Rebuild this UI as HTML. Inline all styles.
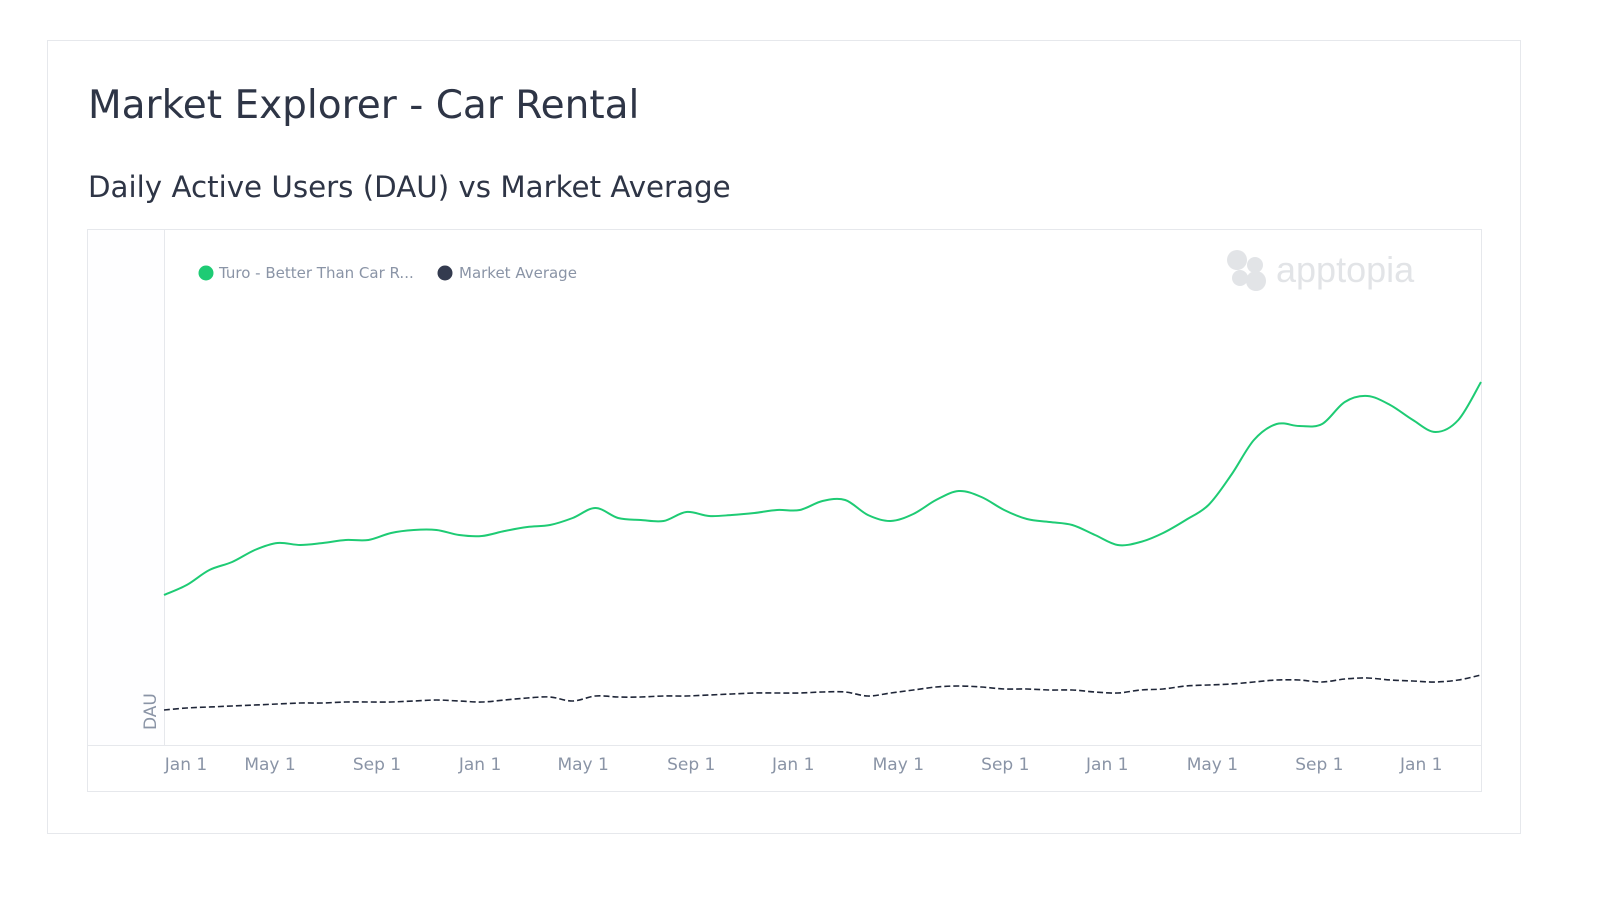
<!DOCTYPE html>
<html><head><meta charset="utf-8">
<style>
html,body{margin:0;padding:0;background:#fff;width:1600px;height:900px;overflow:hidden;font-family:"DejaVu Sans","Liberation Sans",sans-serif;}
#card{position:absolute;left:47px;top:40px;width:1474px;height:794px;border:1px solid #e6e8ec;box-sizing:border-box;}
#title{position:absolute;left:88px;top:83px;font-size:39px;color:#2e3546;margin:0;font-weight:normal;}
#sub{position:absolute;left:88px;top:170px;font-size:29.3px;color:#2e3546;margin:0;font-weight:normal;}
svg{position:absolute;left:0;top:0;}
</style></head><body>
<div id="card"></div>
<h1 id="title">Market Explorer - Car Rental</h1>
<h2 id="sub">Daily Active Users (DAU) vs Market Average</h2>
<svg id="chart" width="1600" height="900">
<rect x="87.5" y="229.5" width="1394" height="562" fill="#fff" stroke="#e6e8ec"/>
<rect x="88" y="230" width="76" height="515" fill="#fefeff"/>
<line x1="164.5" y1="230" x2="164.5" y2="745" stroke="#e6e8ec"/>
<line x1="88" y1="745.5" x2="1481" y2="745.5" stroke="#e6e8ec"/>
<text transform="translate(156,730) rotate(-90)" font-size="17" fill="#8a94a6">DAU</text>
<g>
<circle cx="206" cy="273" r="7.5" fill="#1ecb74"/>
<text x="219" y="278" font-size="15" fill="#8a94a6">Turo - Better Than Car R...</text>
<circle cx="445" cy="273" r="7.5" fill="#343b4f"/>
<text x="459" y="278" font-size="15" fill="#8a94a6">Market Average</text>
</g>
<g fill="#e2e4e7">
<circle cx="1237" cy="260" r="10"/><circle cx="1255" cy="265" r="8"/><circle cx="1240" cy="278" r="8"/><circle cx="1256" cy="281" r="10"/>
<text x="1276" y="282" font-size="36" fill="#e2e4e7" font-family="Liberation Sans, sans-serif">apptopia</text>
</g>
<g id="xticks"></g>
<path id="mkt" fill="none" stroke="#1f2638" stroke-width="1.6" stroke-dasharray="6,3"/>
<path id="turo" fill="none" stroke="#1ecb74" stroke-width="2" stroke-linejoin="round"/>
</svg>
<script>
const tickLabels=["Jan 1","May 1","Sep 1","Jan 1","May 1","Sep 1","Jan 1","May 1","Sep 1","Jan 1","May 1","Sep 1","Jan 1"];
const tickIndex=[0.97,4.67,9.38,13.92,18.46,23.22,27.71,32.34,37.05,41.54,46.17,50.88,55.37];
const turoValues=[150,160,175,183,195,202,200,202,205,205,212,215,215,210,209,214,218,220,227,237,227,225,224,233,229,230,232,235,235,244,245,230,224,231,245,254,248,235,226,223,220,210,200,203,212,225,240,270,305,321,319,321,343,349,340,325,313,325,363];
const marketValues=[35,37,38,39,40,41,42,42,43,43,43,44,45,44,43,45,47,48,44,49,48,48,49,49,50,51,52,52,52,53,53,49,52,55,58,59,58,56,56,55,55,53,52,55,56,59,60,61,63,65,65,63,66,67,65,64,63,65,70];
const x0=164,x1=1481,yBase=745;
const n=turoValues.length;
function xScale(i){return x0+i*(x1-x0)/(n-1);}
function yScale(v){return yBase-v;}
function pathFor(arr){
  const p=arr.map((v,i)=>[xScale(i),yScale(v)]);
  let d='M'+p[0][0].toFixed(1)+','+p[0][1].toFixed(1);
  for(let i=0;i<p.length-1;i++){
    const a=p[i-1]||p[i],b=p[i],c=p[i+1],e=p[i+2]||c;
    const c1x=b[0]+(c[0]-a[0])/6,c1y=b[1]+(c[1]-a[1])/6,c2x=c[0]-(e[0]-b[0])/6,c2y=c[1]-(e[1]-b[1])/6;
    d+=' C'+c1x.toFixed(1)+','+c1y.toFixed(1)+' '+c2x.toFixed(1)+','+c2y.toFixed(1)+' '+c[0].toFixed(1)+','+c[1].toFixed(1);
  }
  return d;
}
document.getElementById('turo').setAttribute('d',pathFor(turoValues));
document.getElementById('mkt').setAttribute('d',pathFor(marketValues));
const g=document.getElementById('xticks');
tickLabels.forEach((t,k)=>{
  const el=document.createElementNS('http://www.w3.org/2000/svg','text');
  el.setAttribute('x',xScale(tickIndex[k]));
  el.setAttribute('y',770);
  el.setAttribute('text-anchor','middle');
  el.setAttribute('font-size','17');
  el.setAttribute('fill','#8a94a6');
  
  
  el.textContent=t;
  g.appendChild(el);
});
</script>
</body></html>
